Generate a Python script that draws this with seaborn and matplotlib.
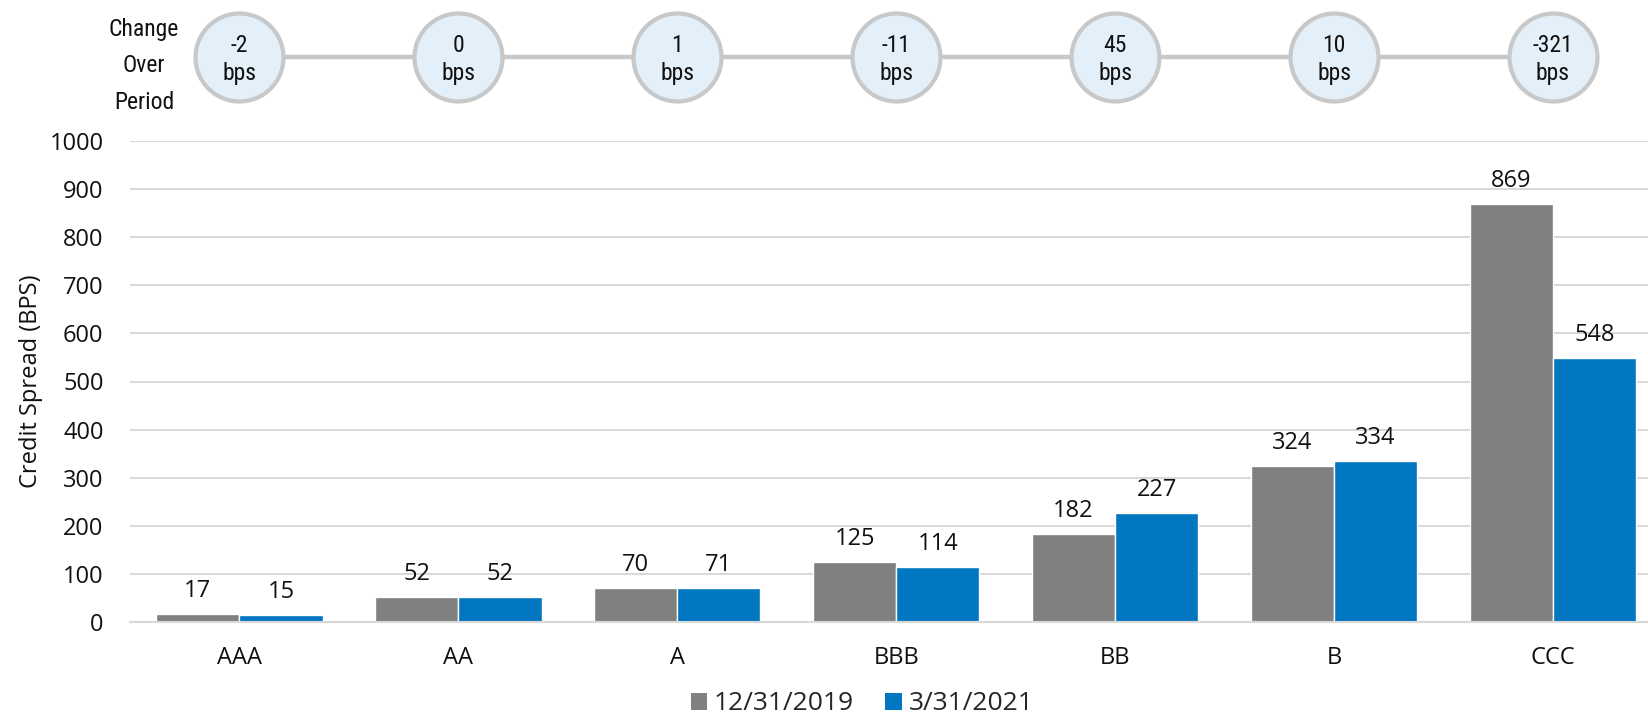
import matplotlib
matplotlib.use("Agg")
import matplotlib.pyplot as plt
import seaborn as sns
import pandas as pd
from matplotlib.patches import Patch
from matplotlib import font_manager as fm

ratings = ["AAA", "AA", "A", "BBB", "BB", "B", "CCC"]
spread_2019 = [17, 52, 70, 125, 182, 324, 869]
spread_2021 = [15, 52, 71, 114, 227, 334, 548]
changes = ["-2", "0", "1", "-11", "45", "10", "-321"]
series_names = ["12/31/2019", "3/31/2021"]
colors = ["#808080", "#0077C0"]

sns.set_theme(style="white")
plt.rcParams['font.family'] = ['Open Sans', 'DejaVu Sans']

names = {f.name for f in fm.fontManager.ttflist}
cond = [n for n in ["Roboto Condensed", "Open Sans Condensed", "Liberation Sans Narrow",
                    "Noto Sans Condensed", "DejaVu Sans Condensed"] if n in names]
NARROW = cond + ['DejaVu Sans']

df = pd.DataFrame({
    "rating": ratings * 2,
    "date": [series_names[0]] * len(ratings) + [series_names[1]] * len(ratings),
    "value": spread_2019 + spread_2021,
})

W, H = 1648, 718
fig = plt.figure(figsize=(W / 100, H / 100), dpi=100)
ax = fig.add_axes([130 / W, (H - 622) / H, (W - 130) / W, 481 / H])

sns.barplot(data=df, x="rating", y="value", hue="date", order=ratings,
            hue_order=series_names, palette=colors, width=0.76, gap=0,
            saturation=1, legend=False, ax=ax)

xr = 6 + (W - 1553) / 218.83
ax.set_xlim(-0.5, xr)
ax.set_ylim(0, 1000)
ax.set_yticks(range(0, 1001, 100))
ax.yaxis.grid(True, color="#D9D9D9", linewidth=1.5)
ax.set_axisbelow(True)
for s in ["left", "right", "top"]:
    ax.spines[s].set_visible(False)
ax.spines["bottom"].set_color("#D9D9D9")
ax.spines["bottom"].set_linewidth(1.5)
ax.tick_params(axis="both", length=0, labelsize=17, colors="#111111")
ax.tick_params(axis="y", pad=19)
ax.tick_params(axis="x", pad=17)
ax.set_xlabel("")
ax.set_ylabel("Credit Spread (BPS)", fontsize=17, color="#111111", labelpad=5)

for cont in ax.containers:
    ax.bar_label(cont, fmt="%d", padding=8, fontsize=17, color="#111111")

# Top row of circles
ax2 = fig.add_axes([130 / W, (H - 115) / H, (W - 130) / W, 115 / H])
ax2.set_xlim(-0.5, xr)
ax2.set_ylim(0, 1)
ax2.axis("off")
xs = list(range(len(ratings)))
cy = (115 - 57) / 115
ax2.plot(xs, [cy] * len(xs), color="#C8C8C8", linewidth=3.2, zorder=1,
         solid_capstyle="butt")
sns.scatterplot(x=xs, y=[cy] * len(xs), s=(88 * 0.72) ** 2, color="#E3F0F9",
                edgecolor="#C8C8C8", linewidth=3.0, zorder=2, ax=ax2, legend=False)
for x, c in zip(xs, changes):
    ax2.text(x, cy - 0.02, f"{c}\nbps", ha="center", va="center", fontsize=17,
             family=NARROW, fontstretch="condensed", color="#111111",
             linespacing=1.25, zorder=3)

fig.text(144 / W, 1 - 66 / H, "Change\nOver\nPeriod", ha="center", va="center",
         fontsize=17, family=NARROW, fontstretch="condensed", color="#111111",
         linespacing=1.75)

handles = [Patch(facecolor=c, edgecolor="none") for c in colors]
fig.legend(handles, series_names, loc="center", bbox_to_anchor=(862 / W, 1 - 704 / H),
           ncol=2, frameon=False, fontsize=19, handlelength=0.62, handleheight=0.62,
           handletextpad=0.25, columnspacing=1.2)

fig.savefig("out.png", dpi=100)
